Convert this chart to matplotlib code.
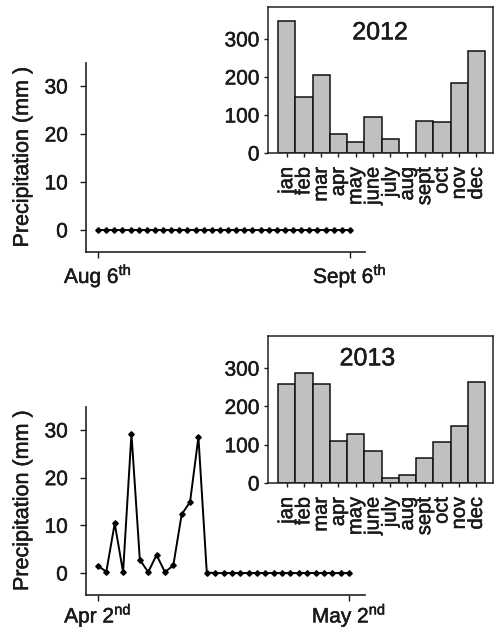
import matplotlib
matplotlib.use("Agg")
import matplotlib.pyplot as plt
import matplotlib.patheffects as pe
import matplotlib.text as mtext
import numpy as np

plt.rcParams['font.family'] = ['Liberation Sans', 'DejaVu Sans']
plt.rcParams['mathtext.fontset'] = 'custom'
plt.rcParams['mathtext.rm'] = 'Liberation Sans'

months = ["jan", "feb", "mar", "apr", "may", "june", "july", "aug", "sept", "oct", "nov", "dec"]
monthly_2012 = [348, 148, 206, 50, 29, 96, 37, 0, 85, 82, 185, 268]
monthly_2013 = [259, 287, 259, 110, 128, 83, 13, 21, 65, 106, 149, 263]

# daily precipitation, Aug 6th - Sept 6th 2012
daily_2012 = [0, 0, 0, 0, 0, 0, 0, 0, 0, 0, 0, 0, 0, 0, 0, 0,
              0, 0, 0, 0, 0, 0, 0, 0, 0, 0, 0, 0, 0, 0, 0, 0]
# daily precipitation, Apr 2nd - May 2nd 2013
daily_2013 = [1.5, 0.3, 10.4, 0.2, 29.2, 2.8, 0.2, 3.8, 0.2, 1.6, 12.3, 14.9, 28.5, 0.1,
              0, 0, 0, 0, 0, 0, 0, 0, 0, 0, 0, 0, 0, 0, 0, 0, 0]

labels_2012 = ["Aug 6$^{\\mathrm{th}}$", "Sept 6$^{\\mathrm{th}}$"]
labels_2013 = ["Apr 2$^{\\mathrm{nd}}$", "May 2$^{\\mathrm{nd}}$"]

FS = 15
TXT = '#1a1a1a'
W, H = 497, 627
fig = plt.figure(figsize=(W / 100, H / 100), dpi=100)


def frac(left, top, right, bottom):
    return [left / W, 1 - bottom / H, (right - left) / W, (bottom - top) / H]


def main_panel(rect, values, ticklabels, xlim, xpad):
    ax = fig.add_axes(rect)
    x = np.arange(len(values))
    ax.plot(x, values, color='black', lw=1.4, marker='D', ms=2.8, mfc='black', mec='black')
    ax.set_xlim(*xlim)
    ax.set_ylim(-4.6, 34.8)
    ax.set_yticks([0, 10, 20, 30])
    ax.set_xticks([0, len(values) - 1])
    ax.set_xticklabels(ticklabels)
    ax.spines['top'].set_visible(False)
    ax.spines['right'].set_visible(False)
    for s in ('left', 'bottom'):
        ax.spines[s].set_linewidth(1.2)
        ax.spines[s].set_color('#222222')
    ax.tick_params(direction='out', length=4, width=1, labelsize=FS, colors=TXT)
    ax.tick_params(axis='y', pad=9)
    ax.tick_params(axis='x', pad=xpad)
    ax.set_ylabel("Precipitation (mm )", fontsize=15.5, color=TXT)
    ax.yaxis.set_label_coords(-0.19, 0.5)
    ax.patch.set_alpha(0)
    return ax


def inset_panel(rect, values, title, tx, ty):
    ax = fig.add_axes(rect)
    x = np.arange(len(values))
    ax.bar(x, values, width=1.0, color='#c0c0c0', edgecolor='#111111', linewidth=1.1)
    ax.set_xlim(-1.08, 11.96)
    ax.set_ylim(0, 384)
    ax.set_yticks([0, 100, 200, 300])
    ax.set_xticks(x)
    ax.set_xticklabels(months, rotation=90, va='top', ha='center')
    for s in ax.spines.values():
        s.set_linewidth(1.1)
        s.set_color('#222222')
    ax.tick_params(direction='out', length=3, width=1, labelsize=FS, colors=TXT, pad=3)
    ax.tick_params(axis='x', pad=7, labelsize=14.5)
    ax.text(tx, ty, title, transform=ax.transAxes, ha='center', va='center', fontsize=18, color=TXT)
    return ax


main_panel(frac(86, 63, 365, 252), daily_2012, labels_2012, (-1.48, 32.85), 3)
main_panel(frac(86, 407, 365, 595), daily_2013, labels_2013, (-1.43, 31.9), 0.5)
inset_panel(frac(268, 7, 493, 153), monthly_2012, "2012", 0.498, 0.826)
inset_panel(frac(268, 336, 493, 483), monthly_2013, "2013", 0.442, 0.848)

for t in fig.findobj(mtext.Text):
    t.set_path_effects([pe.withStroke(linewidth=0.35, foreground=TXT)])

fig.savefig("out.png", dpi=100)
